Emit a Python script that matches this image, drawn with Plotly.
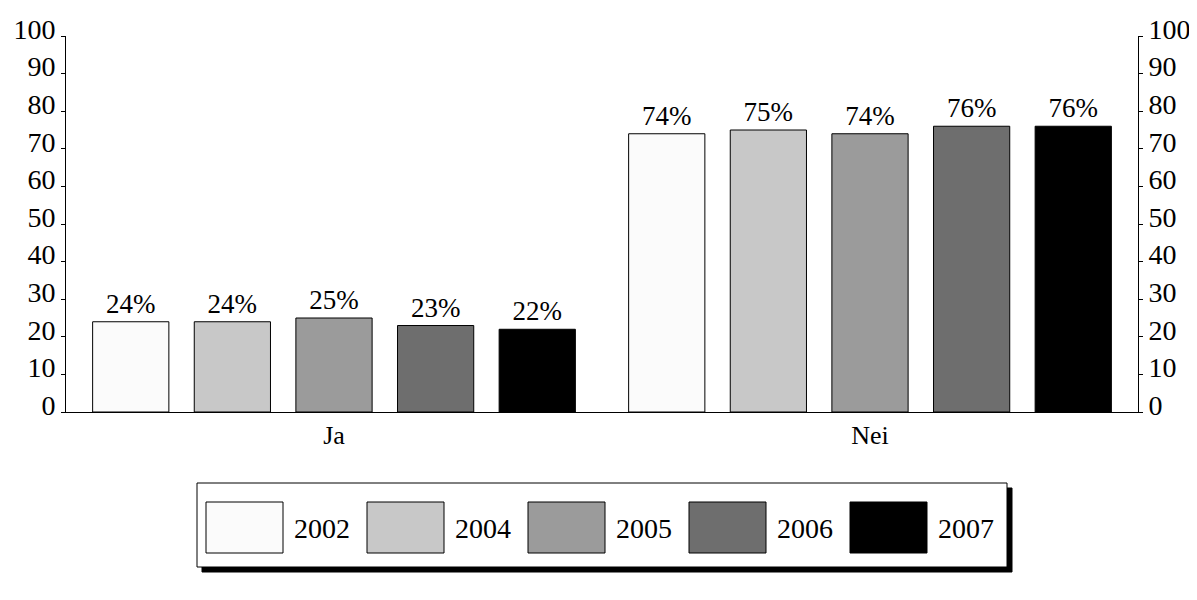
import plotly.graph_objects as go

categories = ["Ja", "Nei"]
years = ["2002", "2004", "2005", "2006", "2007"]
values = {
    "2002": [24, 74],
    "2004": [24, 75],
    "2005": [25, 74],
    "2006": [23, 76],
    "2007": [22, 76],
}
colors = ["#fbfbfb", "#c8c8c8", "#9b9b9b", "#6e6e6e", "#000000"]
y_ticks = list(range(0, 101, 10))

W, H = 1197, 600
OFF = 8  # page body margin
L, R, T, B = 66 - OFF, W - 1138 + OFF, 36 - OFF, H - 412 + OFF
FONT = "Liberation Serif"


def px_x(x):
    # screen pixel -> paper coordinate
    return (x - OFF - L) / (W - L - R)


def px_y(y):
    return (H - B - (y - OFF)) / (H - T - B)


fig = go.Figure()
for year, col in zip(years, colors):
    fig.add_trace(go.Bar(
        x=categories, y=values[year], name=year,
        marker=dict(color=col, line=dict(color="black", width=1)),
        texttemplate="%{y}%", textposition="outside",
        textfont=dict(family=FONT, size=27, color="black"),
        cliponaxis=False, showlegend=False,
    ))

# invisible trace so the right-hand axis is drawn
fig.add_trace(go.Scatter(x=categories, y=values["2002"], yaxis="y2",
                         mode="markers", marker=dict(opacity=0),
                         showlegend=False, hoverinfo="skip"))

axis_common = dict(range=[0, 100], tickvals=y_ticks, showgrid=False, zeroline=False,
                   showline=True, linecolor="black", linewidth=1,
                   ticks="outside", ticklen=4, tickcolor="black", ticklabelshift=-7,
                   tickfont=dict(family=FONT, size=28, color="black"))

fig.update_layout(
    width=W, height=H,
    margin=dict(l=L, r=R, t=T, b=B, autoexpand=False),
    font=dict(family=FONT, color="black"),
    paper_bgcolor="white", plot_bgcolor="white",
    barmode="group", bargap=0.052, bargroupgap=0.25,
    xaxis=dict(showline=True, linecolor="black", linewidth=1, ticks="",
               tickfont=dict(family=FONT, size=26, color="black"),
               automargin=False),
    yaxis=dict(side="left", automargin=False, **axis_common),
    yaxis2=dict(side="right", overlaying="y", automargin=False, **axis_common),
    showlegend=False,
)

# legend drawn by hand: framed box with drop shadow
box_l, box_r, box_t, box_b = 197, 1007, 483, 567
fig.add_shape(type="rect", xref="paper", yref="paper",
              x0=px_x(box_l + 5), x1=px_x(box_r + 5), y0=px_y(box_b + 5), y1=px_y(box_t + 5),
              fillcolor="black", line=dict(color="black", width=1))
fig.add_shape(type="rect", xref="paper", yref="paper",
              x0=px_x(box_l), x1=px_x(box_r), y0=px_y(box_b), y1=px_y(box_t),
              fillcolor="white", line=dict(color="black", width=1))
for i, (year, col) in enumerate(zip(years, colors)):
    sx = 206 + i * 161
    fig.add_shape(type="rect", xref="paper", yref="paper",
                  x0=px_x(sx), x1=px_x(sx + 77), y0=px_y(553), y1=px_y(502),
                  fillcolor=col, line=dict(color="black", width=1))
    fig.add_annotation(xref="paper", yref="paper", x=px_x(sx + 86), y=px_y(528),
                       text=year, showarrow=False, xanchor="left", yanchor="middle",
                       font=dict(family=FONT, size=28, color="black"))

fig.write_html("out.html")
